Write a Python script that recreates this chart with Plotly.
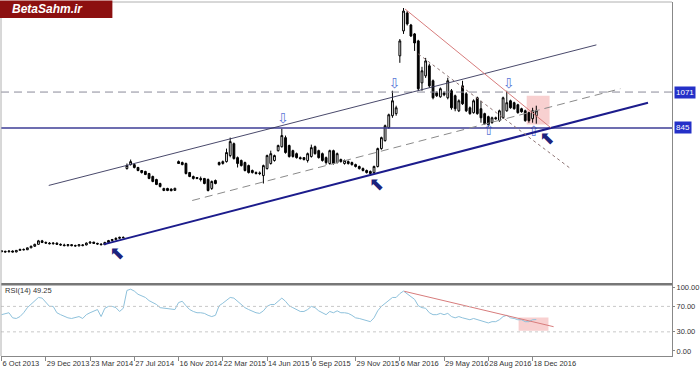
import plotly.graph_objects as go

# ---------------- data ----------------
opens = [72,68,66,70,64,74,80,78,90,100,
         112,134,124,120,116,120,112,108,104,110,
         104,102,104,108,120,126,118,114,110,124,
         136,142,150,156,589,615,614,596,577,571,
         558,539,520,495,451,464,460,452,633,627,
         621,564,539,533,527,527,520,464,514,627,
         621,633,671,746,658,640,627,608,577,564,
         562,545,589,621,640,702,727,784,734,702,
         683,658,658,640,665,727,702,683,658,621,
         702,627,646,621,633,627,614,602,589,577,
         571,564,602,715,765,847,922,935,1299,1456,
         1569,1493,1437,1393,1129,1173,1236,1142,1066,1041,
         1066,1035,1079,1048,953,1110,1060,972,941,1035,
         966,935,916,878,909,891,909,953,1016,1004,
         991,966,953,941,903,922]
highs = [75,72,72,74,76,84,86,92,104,116,
         140,140,130,126,124,124,118,116,112,114,
         110,112,112,124,130,128,122,118,128,140,
         146,156,160,162,621,646,620,600,580,575,
         562,545,525,500,468,468,464,468,640,633,
         627,568,545,536,539,530,527,514,520,633,
         640,715,784,753,665,646,633,614,583,571,
         571,614,677,702,677,740,840,797,740,708,
         690,665,662,690,740,734,708,690,665,708,
         708,690,652,646,640,633,620,608,596,583,
         577,608,721,790,866,935,1079,985,1405,1600,
         1581,1500,1443,1400,1230,1286,1250,1150,1075,1100,
         1075,1161,1090,1055,1025,1142,1070,980,1025,1042,
         1016,941,922,916,916,960,1042,1079,1023,1010,
         997,972,960,947,972,985]
lows = [63,62,60,62,62,72,74,76,88,96,
        110,120,116,112,110,108,104,100,98,100,
        98,100,100,106,116,114,110,106,108,120,
        130,138,146,150,583,608,590,572,558,548,
        522,503,485,470,447,447,446,448,618,610,
        552,535,520,522,508,490,445,455,490,608,
        614,627,660,646,596,602,571,558,558,552,
        548,495,583,614,633,696,721,683,658,658,
        652,646,640,627,658,677,652,633,614,614,
        614,621,627,614,614,608,596,583,571,558,
        545,558,596,708,759,840,909,922,1255,1437,
        1490,1418,1330,1080,1079,1160,1098,1025,1040,1035,
        1045,1025,960,950,945,990,945,928,935,928,
        878,866,853,872,897,884,903,947,966,960,
        935,941,884,878,878,872]
closes = [66,64,70,64,74,80,78,90,100,112,
          134,124,120,116,120,112,108,104,110,104,
          102,110,108,120,126,118,114,110,124,136,
          142,150,156,154,608,633,596,577,564,552,
          527,508,489,476,464,451,450,465,621,614,
          558,539,527,527,520,495,451,508,495,614,
          633,690,759,652,621,608,577,564,564,558,
          558,608,671,683,671,734,797,690,665,665,
          658,652,646,683,721,683,658,640,627,702,
          621,683,633,640,621,614,602,589,577,564,
          558,602,715,784,859,928,1016,972,1393,1581,
          1500,1424,1380,1092,1205,1267,1110,1035,1048,1092,
          1054,1142,972,966,1016,997,953,935,1016,935,
          909,872,866,909,903,953,1035,1004,972,966,
          941,947,891,891,953,953]
rsi = [57,59,60,52,51,54,60,68,73,78,
       84,83,76,70,70,60,57,54,52,51,
       52,54,51,57,60,62,65,54,67,70,
       70,68,62,67,95,97,94,89,86,84,
       79,76,73,68,67,66,65,65,76,78,
       71,65,62,60,60,59,56,54,56,71,
       75,79,84,83,78,73,68,65,62,60,
       59,63,70,73,73,78,83,78,71,68,
       65,62,62,65,70,68,63,60,57,62,
       60,63,60,60,59,56,52,51,49,48,
       46,52,63,70,75,79,84,84,90,94,
       90,86,81,71,68,67,60,57,57,59,
       57,59,54,52,54,52,51,49,51,49,
       48,46,44,46,46,49,54,56,52,51,
       49,49,46,46,49,49.25]
bar_idx = list(range(len(closes)))

tick_idx = [0, 12, 24, 36, 48, 60, 72, 84, 96, 108, 120, 132, 144]
tick_labels = ["6 Oct 2013", "29 Dec 2013", "23 Mar 2014", "27 Jul 2014",
               "16 Nov 2014", "22 Mar 2015", "14 Jun 2015", "6 Sep 2015",
               "29 Nov 2015", "6 Mar 2016", "29 May 2016", "28 Aug 2016",
               "18 Dec 2016"]

level_resist = 1071
level_support = 845

# drawn lines: [(bar, price), (bar, price)]
support_line = [(27.7, 112), (175.3, 1004)]
channel_top = [(12.8, 483), (161.3, 1368)]
channel_mid = [(51.7, 388), (167.8, 1092)]
down_line = [(109.4, 1594), (148.9, 847)]
down_dotted = [(113.0, 1311), (154.3, 589)]
price_box = [(142.4, 1048), (148.6, 866)]
rsi_line = [(109.2, 93.7), (149.7, 38.1)]
rsi_box = [(140.2, 52.4), (148.3, 31.7)]

pivot_bars = [76.3, 106.5, 137.5, 132.1, 144.3]
pivot_prices = [897, 1117, 1117, 822, 815]
pivot_glyphs = ["⇩", "⇩", "⇩", "⇧", "⇧"]

signal_bars = [31.3, 101.7, 147.9]
signal_prices = [50, 480, 775]
signal_glyph = "⬉"

rsi_levels = [70, 30]
rsi_ticks = [0, 30, 70, 100]
rsi_tick_text = ["0.00", "30.00", "70.00", "100.00"]

# ---------------- figure ----------------
FONT = "Liberation Sans, Arial, sans-serif"
X_RANGE = [-0.15, 181.8]
SPLIT = 0.2028

fig = go.Figure()
fig.add_trace(go.Candlestick(
    x=bar_idx, open=opens, high=highs, low=lows, close=closes,
    xaxis="x", yaxis="y",
    increasing=dict(line=dict(color="#000000", width=1), fillcolor="#ffffff"),
    decreasing=dict(line=dict(color="#000000", width=1), fillcolor="#000000"),
    whiskerwidth=0, showlegend=False, hoverinfo="skip"))

fig.add_trace(go.Scatter(
    x=bar_idx, y=rsi, xaxis="x2", yaxis="y2", mode="lines",
    line=dict(color="#8ec1db", width=1), showlegend=False, hoverinfo="skip"))

fig.add_trace(go.Scatter(
    x=pivot_bars, y=pivot_prices, text=pivot_glyphs, mode="text",
    textfont=dict(color="#5a78d6", size=14, family="DejaVu Sans"),
    xaxis="x", yaxis="y", showlegend=False, hoverinfo="skip"))

fig.add_trace(go.Scatter(
    x=signal_bars, y=signal_prices, text=[signal_glyph] * len(signal_bars), mode="text",
    textfont=dict(color="#1c237e", size=18, family="DejaVu Sans"),
    xaxis="x", yaxis="y", showlegend=False, hoverinfo="skip"))

shapes = []
def seg(pts, xref, yref, color, width, dash="solid"):
    (x0, y0), (x1, y1) = pts
    shapes.append(dict(type="line", xref=xref, yref=yref, x0=x0, y0=y0, x1=x1, y1=y1,
                       line=dict(color=color, width=width, dash=dash)))

def box(pts, xref, yref, color):
    (x0, y0), (x1, y1) = pts
    shapes.append(dict(type="rect", xref=xref, yref=yref, x0=x0, y0=y0, x1=x1, y1=y1,
                       fillcolor=color, line=dict(width=0), layer="below"))

box(price_box, "x", "y", "rgba(242,170,170,0.55)")
box(rsi_box, "x2", "y2", "rgba(242,170,170,0.55)")

# horizontal levels
shapes.append(dict(type="line", xref="paper", yref="y", x0=0, x1=1,
                   y0=level_resist, y1=level_resist,
                   line=dict(color="#8a8a9a", width=1, dash="8px,5px")))
shapes.append(dict(type="line", xref="paper", yref="y", x0=0, x1=1,
                   y0=level_support, y1=level_support,
                   line=dict(color="#3c3c96", width=1.6)))

seg(channel_top, "x", "y", "#34345a", 0.9)
seg(channel_mid, "x", "y", "#8a8a8a", 1, "8px,5px")
seg(support_line, "x", "y", "#1c1c8c", 2)
seg(down_line, "x", "y", "#d77c7c", 1)
seg(down_dotted, "x", "y", "#8d7474", 1, "dot")
seg(rsi_line, "x2", "y2", "#d77c7c", 1)

for lv in rsi_levels:
    shapes.append(dict(type="line", xref="paper", yref="y2", x0=0, x1=1, y0=lv, y1=lv,
                       line=dict(color="#c8c8c8", width=1, dash="dot")))

# frame / separator
shapes.append(dict(type="line", xref="paper", yref="paper", x0=0, x1=1, y0=SPLIT, y1=SPLIT,
                   line=dict(color="#777777", width=2.5)))
shapes.append(dict(type="line", xref="paper", yref="paper", x0=0, x1=1, y0=1, y1=1,
                   line=dict(color="#b0b0b0", width=1)))
shapes.append(dict(type="line", xref="paper", yref="paper", x0=0, x1=0, y0=0, y1=1,
                   line=dict(color="#b0b0b0", width=1)))
# logo box
shapes.append(dict(type="rect", xref="paper", yref="paper", x0=-0.002, x1=0.166,
                   y0=0.955, y1=1.004, fillcolor="#8c1010", line=dict(width=0)))

annotations = []
for val in (level_resist, level_support):
    annotations.append(dict(x=1, y=val, xref="paper", yref="y", xanchor="left",
                            xshift=2, text=str(val), showarrow=False,
                            bgcolor="#2430c8", borderpad=1,
                            font=dict(color="#ffffff", size=8, family=FONT)))

annotations.append(dict(x=0.003, y=0.186, xref="paper", yref="paper", xanchor="left",
                        yanchor="middle", text="RSI(14) 49.25", showarrow=False,
                        font=dict(color="#333333", size=7.5, family=FONT)))
annotations.append(dict(x=0.013, y=0.979, xref="paper", yref="paper", xanchor="left",
                        yanchor="middle", text="<b><i>BetaSahm.ir</i></b>", showarrow=False,
                        font=dict(color="#ffffff", size=12, family=FONT)))

fig.update_layout(
    width=700, height=369,
    margin=dict(l=1, r=25, t=1, b=13),
    paper_bgcolor="#ffffff", plot_bgcolor="#ffffff",
    font=dict(family=FONT, size=8, color="#333333"),
    showlegend=False,
    shapes=shapes, annotations=annotations,
    xaxis=dict(domain=[0, 1], range=X_RANGE, anchor="y", showticklabels=False,
               showgrid=False, zeroline=False, showline=False, ticks="",
               rangeslider=dict(visible=False)),
    xaxis2=dict(domain=[0, 1], range=X_RANGE, anchor="y2", matches="x",
                tickmode="array", tickvals=tick_idx, ticktext=tick_labels,
                ticks="outside", ticklen=4, tickcolor="#888888", tickangle=0,
                ticklabelposition="outside right",
                tickfont=dict(size=7.5, color="#333333", family=FONT),
                showgrid=False, zeroline=False, showline=True, linecolor="#888888"),
    yaxis=dict(domain=[SPLIT, 1], range=[-139, 1638], side="right", anchor="x",
               showticklabels=False, showgrid=False, zeroline=False,
               showline=True, linecolor="#888888", ticks=""),
    yaxis2=dict(domain=[0, SPLIT], range=[-7.9, 104.8], side="right", anchor="x2",
                tickmode="array", tickvals=rsi_ticks, ticktext=rsi_tick_text,
                ticks="outside", ticklen=2, tickcolor="#888888",
                tickfont=dict(size=7.5, color="#333333", family=FONT),
                showgrid=False, zeroline=False, showline=True, linecolor="#888888"),
)

fig.write_html("out.html", config={"displayModeBar": False},
               post_script="document.body.style.margin='0';document.body.style.overflow='hidden';")
